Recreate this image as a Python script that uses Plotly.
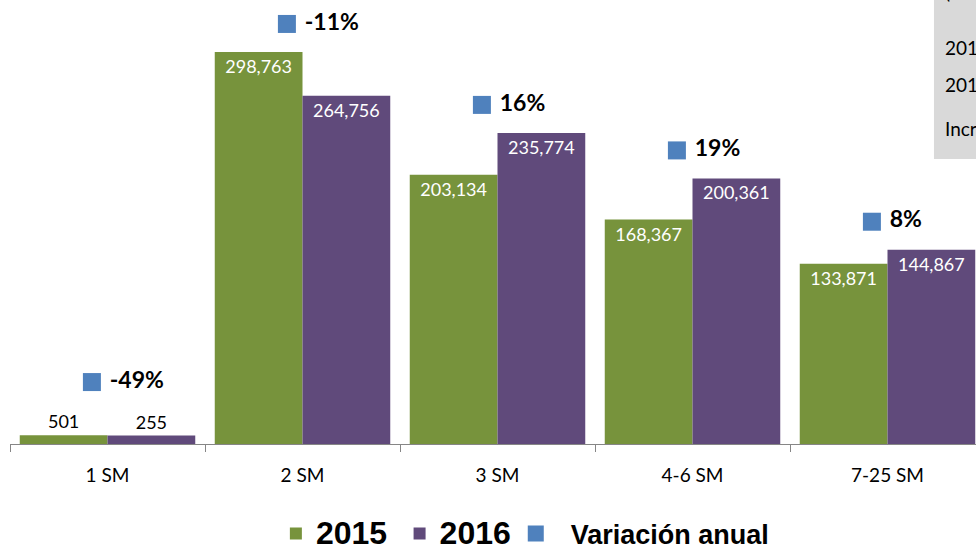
import plotly.graph_objects as go

# datos
categorias = ["1 SM", "2 SM", "3 SM", "4-6 SM", "7-25 SM"]
valores_2015 = [501, 298763, 203134, 168367, 133871]
valores_2016 = [255, 264756, 235774, 200361, 144867]
variacion_anual = [-49, -11, 16, 19, 8]

VERDE = "#77933C"
MORADO = "#604A7B"
AZUL = "#4F81BD"

x = list(range(len(categorias)))
y_min = -6300   # el eje arranca un poco abajo del cero para que se vean las barras chicas
y_max = 339200

# barras pequenas llevan la etiqueta afuera
pos_texto = ["outside" if max(a, b) < 0.1 * y_max else "inside"
             for a, b in zip(valores_2015, valores_2016)]

# marcador de variacion arriba de cada grupo de barras
y_var = [max(a, b) + 21800 + (19600 if p == "outside" else 0)
         for a, b, p in zip(valores_2015, valores_2016, pos_texto)]

fig = go.Figure()

series = [("<span style='font-size:32px'>2015</span>\u00a0", valores_2015, VERDE),
          ("<span style='font-size:32px'>2016</span>", valores_2016, MORADO)]
for nombre, valores, color in series:
    fig.add_trace(go.Bar(
        x=x, y=[v - y_min for v in valores], base=y_min, name=nombre,
        marker=dict(color=color, line=dict(width=0)),
        text=[f"{v:,}" for v in valores], texttemplate="%{text}",
        textposition=pos_texto, insidetextanchor="end", textangle=0,
        insidetextfont=dict(family="Lato", size=18, color="white"),
        outsidetextfont=dict(family="Lato", size=18, color="black"),
        cliponaxis=False, hoverinfo="skip",
    ))

fig.add_trace(go.Scatter(
    x=[i - 0.08 for i in x], y=y_var, name="\u00a0\u00a0Variación anual",
    mode="markers+text",
    marker=dict(symbol="square", size=18, color=AZUL),
    text=[f" {v}%" for v in variacion_anual],
    textposition="middle right",
    textfont=dict(family="Lato", size=23, color="black", weight="bold"),
    cliponaxis=False, hoverinfo="skip",
))

# cuadro de resumen (recortado en el borde derecho)
total_2015 = sum(valores_2015)
total_2016 = sum(valores_2016)
incremento = (total_2016 / total_2015 - 1) * 100

fig.add_shape(type="rect", xref="paper", yref="paper",
              x0=0.9565, x1=1.08, y0=0.642, y1=1.05,
              fillcolor="#D9D9D9", line=dict(width=0), layer="below")
lineas = [("(Trabajadores)", 1.019),
          (f"2015: {total_2015:,}", 0.894),
          (f"2016: {total_2016:,}", 0.8086),
          (f"Incremento: {incremento:.0f}%", 0.7117)]
for txt, yy in lineas:
    fig.add_annotation(text=txt, xref="paper", yref="paper", x=0.9658, y=yy,
                       xanchor="left", yanchor="middle", showarrow=False,
                       font=dict(family="Lato", size=19, color="black"))

fig.update_layout(
    width=976, height=550,
    margin=dict(l=10, r=0, t=0, b=106),
    paper_bgcolor="white", plot_bgcolor="white",
    barmode="group", bargap=0.1, bargroupgap=0,
    showlegend=True,
    legend=dict(orientation="h", x=0.533, xanchor="center",
                yref="container", y=0.029, yanchor="middle",
                font=dict(family="Liberation Sans", size=27, color="black", weight="bold"),
                itemclick=False, itemdoubleclick=False),
    xaxis=dict(
        range=[-0.5, -0.5 + 966 / 195],
        tickvals=x, ticktext=categorias, ticks="",
        ticklabelstandoff=14,
        tickfont=dict(family="Lato", size=19, color="black"),
        showline=True, linecolor="#868686", linewidth=1,
        showgrid=False, zeroline=False,
        minor=dict(tickvals=[i - 0.5 for i in range(len(categorias) + 1)],
                   ticks="outside", ticklen=7, tickcolor="#868686", tickwidth=1,
                   showgrid=False),
    ),
    yaxis=dict(range=[y_min, y_max], visible=False),
)

fig.write_html("out.html", config={"displayModeBar": False},
               post_script="document.body.style.margin='0';")
